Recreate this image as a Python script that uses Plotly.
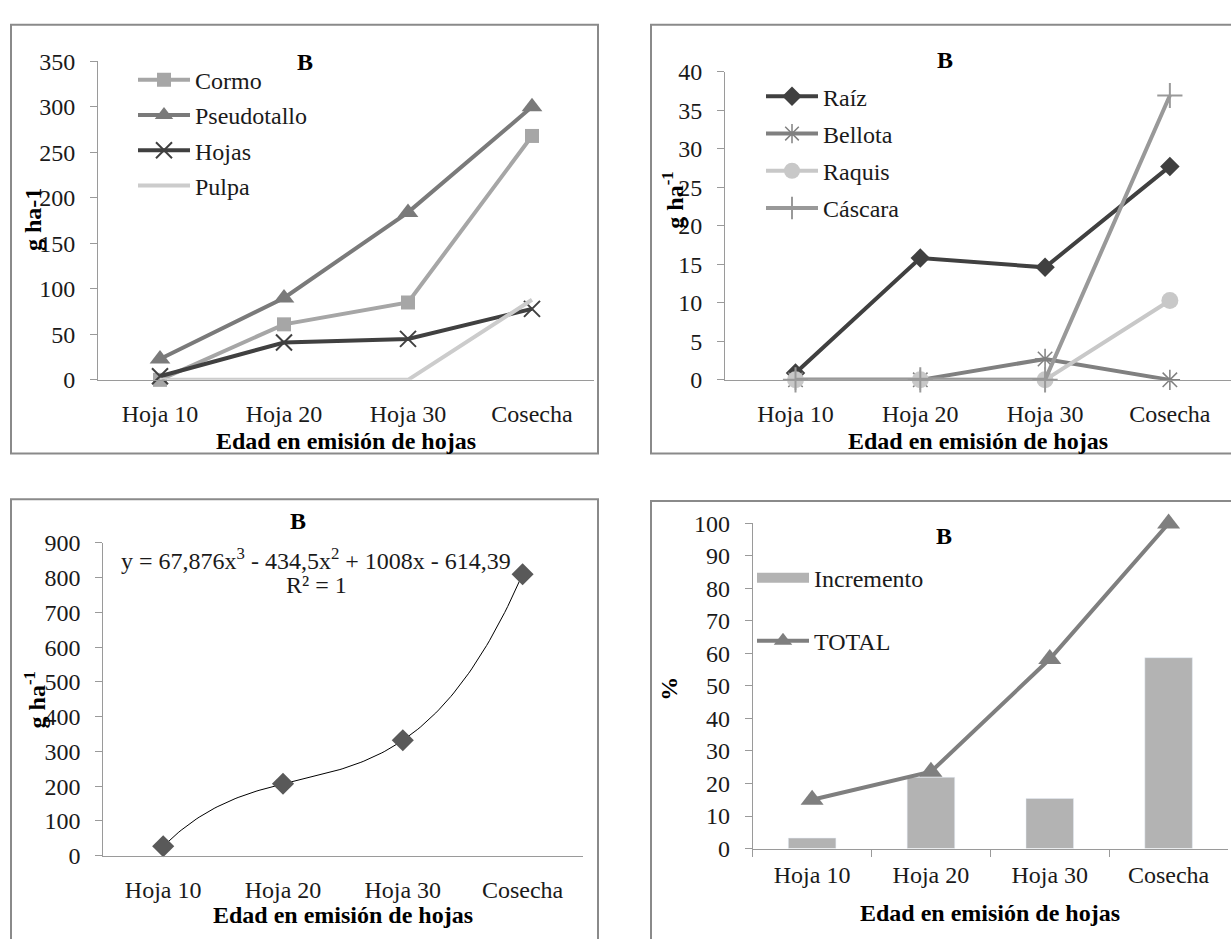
import numpy as np
import plotly.graph_objects as go

W, H = 1231, 939
FONT = "Liberation Serif, Times New Roman, serif"
FS = 24
TXT = "#1a1a1a"
AXC = "#9a9a9a"

CATS = ["Hoja 10", "Hoja 20", "Hoja 30", "Cosecha"]
X_TITLE = "Edad en emisión de hojas"

# ---- top-left panel ----
CORMO = [0, 61, 85, 268]
PSEUDOTALLO = [23, 90, 184, 300]
HOJAS = [4, 41, 45, 78]
PULPA = [0, 0, 0, 88]
Y1_TICKS = [0, 50, 100, 150, 200, 250, 300, 350]

# ---- top-right panel ----
RAIZ = [0.9, 15.8, 14.6, 27.7]
BELLOTA = [0, 0, 2.7, 0]
RAQUIS = [0, 0, 0, 10.3]
CASCARA = [0, 0, 0, 36.9]
Y2_TICKS = [0, 5, 10, 15, 20, 25, 30, 35, 40]

# ---- bottom-left panel ----
TOTAL_G = [27, 207, 332, 810]
CAT_POS = [1, 2, 3, 4]
TREND_COEF = [67.876, -434.5, 1008, -614.39]
Y3_TICKS = [0, 100, 200, 300, 400, 500, 600, 700, 800, 900]

# ---- bottom-right panel ----
INCREMENTO = [3.2, 21.9, 15.4, 58.7]
TOTAL_PCT = [15, 23.6, 58.3, 100]
Y4_TICKS = [0, 10, 20, 30, 40, 50, 60, 70, 80, 90, 100]


def fx(px):
    return px / W


def fy(py):
    return 1 - py / H


fig = go.Figure()

# panel 1 traces
fig.add_trace(go.Scatter(x=CATS, y=CORMO, name="Cormo", mode="lines+markers",
                         line=dict(color="#a6a6a6", width=4),
                         marker=dict(symbol="square", size=14, color="#a6a6a6"),
                         xaxis="x", yaxis="y", legend="legend", legendgroup="a1", cliponaxis=False))
fig.add_trace(go.Scatter(x=CATS, y=PSEUDOTALLO, name="Pseudotallo", mode="lines+markers",
                         line=dict(color="#7a7a7a", width=4),
                         marker=dict(symbol="triangle-up", size=18, color="#7a7a7a"),
                         xaxis="x", yaxis="y", legend="legend", legendgroup="a2", cliponaxis=False))
fig.add_trace(go.Scatter(x=CATS, y=HOJAS, name="Hojas", mode="lines+markers",
                         line=dict(color="#404040", width=4),
                         marker=dict(symbol="x-thin-open", size=16, color="#404040",
                                     line=dict(width=2, color="#404040")),
                         xaxis="x", yaxis="y", legend="legend", legendgroup="a3", cliponaxis=False))
fig.add_trace(go.Scatter(x=CATS, y=PULPA, name="Pulpa", mode="lines",
                         line=dict(color="#cccccc", width=4),
                         xaxis="x", yaxis="y", legend="legend", legendgroup="a4", cliponaxis=False))

# panel 2 traces
fig.add_trace(go.Scatter(x=CATS, y=RAIZ, name="Raíz", mode="lines+markers",
                         line=dict(color="#404040", width=4),
                         marker=dict(symbol="diamond", size=15, color="#404040"),
                         xaxis="x2", yaxis="y2", legend="legend2", legendgroup="b1", cliponaxis=False))
fig.add_trace(go.Scatter(x=CATS, y=BELLOTA, name="Bellota", mode="lines+markers",
                         line=dict(color="#808080", width=4),
                         marker=dict(symbol="asterisk-open", size=17, color="#808080",
                                     line=dict(width=1.5, color="#808080")),
                         xaxis="x2", yaxis="y2", legend="legend2", legendgroup="b2", cliponaxis=False))
fig.add_trace(go.Scatter(x=CATS, y=RAQUIS, name="Raquis", mode="lines+markers",
                         line=dict(color="#c8c8c8", width=4),
                         marker=dict(symbol="circle", size=17, color="#c8c8c8"),
                         xaxis="x2", yaxis="y2", legend="legend2", legendgroup="b3", cliponaxis=False))
fig.add_trace(go.Scatter(x=CATS, y=CASCARA, name="Cáscara", mode="lines+markers",
                         line=dict(color="#999999", width=4),
                         marker=dict(symbol="cross-thin-open", size=18, color="#999999",
                                     line=dict(width=2, color="#999999")),
                         xaxis="x2", yaxis="y2", legend="legend2", legendgroup="b4", cliponaxis=False))

# panel 3 traces
trend_x = np.linspace(CAT_POS[0], CAT_POS[-1], 121)
trend_y = np.polyval(TREND_COEF, trend_x)
fig.add_trace(go.Scatter(x=trend_x, y=trend_y, mode="lines", showlegend=False,
                         line=dict(color="#000000", width=1),
                         xaxis="x3", yaxis="y3", hoverinfo="skip"))
fig.add_trace(go.Scatter(x=CAT_POS, y=TOTAL_G, mode="markers", showlegend=False,
                         marker=dict(symbol="diamond", size=17, color="#595959"),
                         xaxis="x3", yaxis="y3", cliponaxis=False))

# panel 4 traces
BAR_COLOR = "#b3b3b3"
fig.add_trace(go.Bar(x=CATS, y=INCREMENTO, name="Incremento", marker=dict(color=BAR_COLOR),
                     xaxis="x4", yaxis="y4", showlegend=False))
# legend swatch for the bars (wide rectangle, as in the original)
fig.add_trace(go.Scatter(x=[None], y=[None], name="Incremento", mode="lines",
                         line=dict(color=BAR_COLOR, width=13),
                         xaxis="x4", yaxis="y4", legend="legend3", legendgroup="d1"))
fig.add_trace(go.Scatter(x=CATS, y=TOTAL_PCT, name="TOTAL", mode="lines+markers",
                         line=dict(color="#7f7f7f", width=4),
                         marker=dict(symbol="triangle-up", size=20, color="#7f7f7f"),
                         xaxis="x4", yaxis="y4", legend="legend3", legendgroup="d2", cliponaxis=False))

tickfont = dict(family=FONT, size=FS, color=TXT)


def xax(dom, rng, anchor, **kw):
    d = dict(domain=[fx(dom[0]), fx(dom[1])], range=rng, anchor=anchor,
             showline=True, linecolor=AXC, linewidth=1, showgrid=False, zeroline=False,
             ticks="", tickfont=tickfont, ticklabelstandoff=12, fixedrange=True)
    d.update(kw)
    return d


def yax(dom, rng, anchor, tickvals, **kw):
    d = dict(domain=[fy(dom[1]), fy(dom[0])], range=rng, anchor=anchor,
             showline=True, linecolor=AXC, linewidth=1, showgrid=False, zeroline=False,
             ticks="outside", ticklen=7, tickcolor=AXC, tickwidth=1,
             tickvals=tickvals, tickfont=tickfont, ticklabelstandoff=10, fixedrange=True)
    d.update(kw)
    return d


legfont = dict(family=FONT, size=FS, color=TXT)


def leg(x, y, gap):
    return dict(x=fx(x), y=fy(y), xanchor="left", yanchor="top", font=legfont,
                bgcolor="rgba(0,0,0,0)", traceorder="grouped", tracegroupgap=gap,
                itemwidth=52)


fig.update_layout(
    width=W, height=H, margin=dict(l=0, r=0, t=0, b=0),
    paper_bgcolor="white", plot_bgcolor="rgba(0,0,0,0)",
    font=dict(family=FONT, size=FS, color=TXT),
    bargap=0.6,
    xaxis=xax((98, 594), [-0.5, 3.5], "y", type="category"),
    yaxis=yax((49.7, 377.3), [0, 350], "x", Y1_TICKS),
    xaxis2=xax((725, 1231), [-0.565, 3.49], "y2", type="category"),
    yaxis2=yax((60.3, 377.3), [0, 40], "x2", Y2_TICKS),
    xaxis3=xax((103.3, 582.5), [0.5, 4.5], "y3", tickvals=CAT_POS, ticktext=CATS),
    yaxis3=yax((545, 866.7), [0, 900], "x3", Y3_TICKS),
    xaxis4=xax((752.7, 1228), [-0.5, 3.5], "y4", type="category", ticks="outside",
               tickson="boundaries", ticklen=7, tickcolor=AXC, tickwidth=1, ticklabelstandoff=5),
    yaxis4=yax((525, 859.3), [0, 100], "x4", Y4_TICKS),
    legend=leg(133, 46, 1),
    legend2=leg(761, 63, 3),
    legend3=leg(752, 558, 29),
)

# panel frames
BORDER = "#8a8a8a"
for (x0, y0, x1, y1) in [(11, 12, 598, 453), (651, 12, 1245, 453),
                         (11, 500, 598, 960), (651, 502, 1245, 960)]:
    fig.add_shape(type="rect", xref="paper", yref="paper",
                  x0=fx(x0), x1=fx(x1), y0=fy(y1), y1=fy(y0),
                  line=dict(color=BORDER, width=2), fillcolor="rgba(0,0,0,0)", layer="below")

anns = []


def ann(text, x, y, size=FS, bold=False, angle=0):
    anns.append(dict(text=f"<b>{text}</b>" if bold else text, x=fx(x), y=fy(y),
                     xref="paper", yref="paper", xanchor="center", yanchor="middle",
                     showarrow=False, textangle=angle,
                     font=dict(family=FONT, size=size, color="#000000" if bold else TXT)))


# panel titles
ann("B", 305, 50, bold=True)
ann("B", 945, 48, bold=True)
ann("B", 298, 522, bold=True)
ann("B", 944, 538, bold=True)
# x titles
ann(X_TITLE, 346, 440, bold=True)
ann(X_TITLE, 978, 440, bold=True)
ann(X_TITLE, 343, 928, bold=True)
ann(X_TITLE, 990, 926, bold=True)
# y titles
ann("g ha-1", 33, 213, bold=True, angle=-90)
ann("g ha<sup>-1</sup>", 673, 193, bold=True, angle=-90)
ann("g ha<sup>-1</sup>", 35, 707, bold=True, angle=-90)
ann("%", 669, 695, bold=True, angle=-90)
# trendline equation
ann("y = 67,876x<sup>3</sup> - 434,5x<sup>2</sup> + 1008x - 614,39", 316, 562)
ann("R² = 1", 316, 588)

fig.update_layout(annotations=anns)

fig.write_html("out.html")
